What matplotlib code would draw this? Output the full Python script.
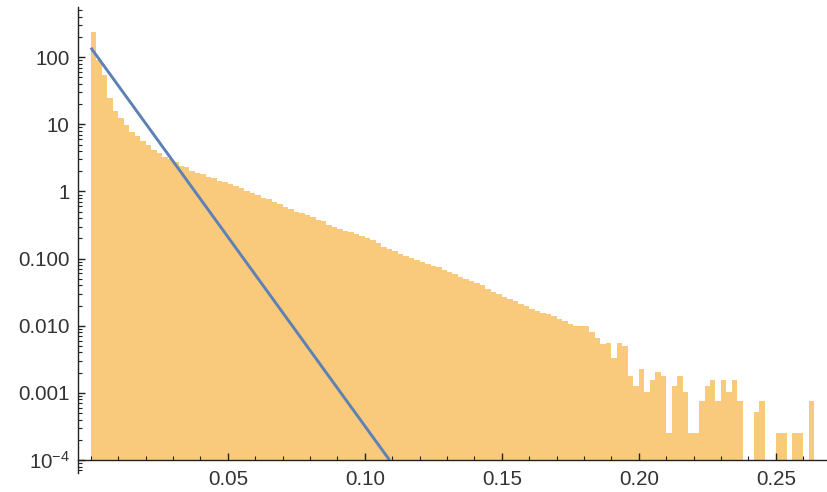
import numpy as np
import matplotlib
matplotlib.use("Agg")
import matplotlib.pyplot as plt
from matplotlib.ticker import FixedLocator, FuncFormatter, NullFormatter, LogLocator

plt.rcParams['font.family'] = ['Liberation Sans', 'DejaVu Sans']
plt.rcParams['mathtext.default'] = 'regular'

# histogram: bins of width 0.002 starting at 0
bin_left = np.round(np.arange(132) * 0.002, 3)
bin_width = 0.002
density = [
    240, 90, 54, 25, 16, 12.3, 9.7, 7.8, 6.6, 5.6,
    4.9, 4.2, 3.8, 3.3, 3.0, 2.7, 2.4, 2.3, 2.05, 1.9,
    1.8, 1.65, 1.57, 1.45, 1.37, 1.27, 1.2, 1.11, 1.03, 0.96,
    0.9, 0.81, 0.76, 0.69, 0.64, 0.58, 0.54, 0.50, 0.48, 0.45,
    0.42, 0.38, 0.36, 0.32, 0.30, 0.28, 0.26, 0.25, 0.236, 0.22,
    0.20, 0.186, 0.168, 0.151, 0.141, 0.131, 0.118, 0.11, 0.103, 0.096,
    0.09, 0.083, 0.078, 0.075, 0.068, 0.064, 0.059, 0.054, 0.05, 0.047,
    0.044, 0.04, 0.035, 0.032, 0.030, 0.027, 0.025, 0.023, 0.0209, 0.0195,
    0.0179, 0.0167, 0.0156, 0.0151, 0.0141, 0.0127, 0.0118, 0.0107, 0.0100, 0.0100,
    0.0098, 0.0082, 0.0065, 0.0053, 0.0055, 0.0033, 0.0055, 0.0050, 0.00178, 0.00127,
    0.0023, 0.00102, 0.00153, 0.00204, 0.00178, 0.000255, 0.00127, 0.00178, 0.00102, 0.000255,
    0.000255, 0.00076, 0.00127, 0.00153, 0.00076, 0.00153, 0.00102, 0.00153, 0.00076, 0,
    0, 0.00051, 0.00076, 0, 0, 0.000255, 0.000255, 0, 0.000255, 0.000255,
    0, 0.00076,
]

# fitted exponential (straight on log axis)
fit_x = [0.0, 0.109]
fit_y = [138, 1e-4]

base = 1e-4
y_ticks = [1e-4, 1e-3, 1e-2, 1e-1, 1, 10, 100]
y_labels = ['$10^{-4}$', '0.001', '0.010', '0.100', '1', '10', '100']
x_ticks = [0.05, 0.10, 0.15, 0.20, 0.25]
x_labels = ['0.05', '0.10', '0.15', '0.20', '0.25']
x_minor = np.round(np.arange(27) * 0.01, 2)

fig = plt.figure(figsize=(8.27, 4.92), dpi=100)
ax = fig.add_axes([0.0943, 0.0386, 0.9057, 0.947])

d = np.array(density)
ax.bar(bin_left, np.where(d > 0, d - base, 0), width=bin_width, bottom=base,
       align='edge', color='#F9CA7C', linewidth=0, zorder=1)
ax.plot(fit_x, fit_y, color='#5E81B5', lw=2.1, zorder=2, solid_capstyle='butt')

ax.set_yscale('log')
ax.set_ylim(6.4e-5, 557)
ax.set_xlim(-0.0047, 0.2687)

for s in ['top', 'right']:
    ax.spines[s].set_visible(False)
ax.spines['bottom'].set_position(('data', base))
for s in ['left', 'bottom']:
    ax.spines[s].set_color('#222222')
    ax.spines[s].set_linewidth(1.0)
    ax.spines[s].set_zorder(3)

ax.yaxis.set_major_locator(FixedLocator(y_ticks))
ax.yaxis.set_major_formatter(FuncFormatter(lambda v, p: y_labels[y_ticks.index(min(y_ticks, key=lambda t: abs(np.log10(t) - np.log10(v))))]))
ax.yaxis.set_minor_locator(LogLocator(base=10, subs=np.arange(2, 10)))
ax.yaxis.set_minor_formatter(NullFormatter())

ax.set_xticks(x_ticks)
ax.set_xticklabels(x_labels)
ax.set_xticks(x_minor, minor=True)

ax.tick_params(axis='both', which='major', direction='in', length=5, width=1.0,
               color='#222222', labelsize=14.8, labelcolor='#333333')
ax.tick_params(axis='both', which='minor', direction='in', length=3, width=0.8,
               color='#222222')
ax.tick_params(axis='y', which='major', pad=6)
ax.tick_params(axis='x', which='major', pad=7)
ax.set_axisbelow(False)

fig.savefig('out.png', dpi=100)
